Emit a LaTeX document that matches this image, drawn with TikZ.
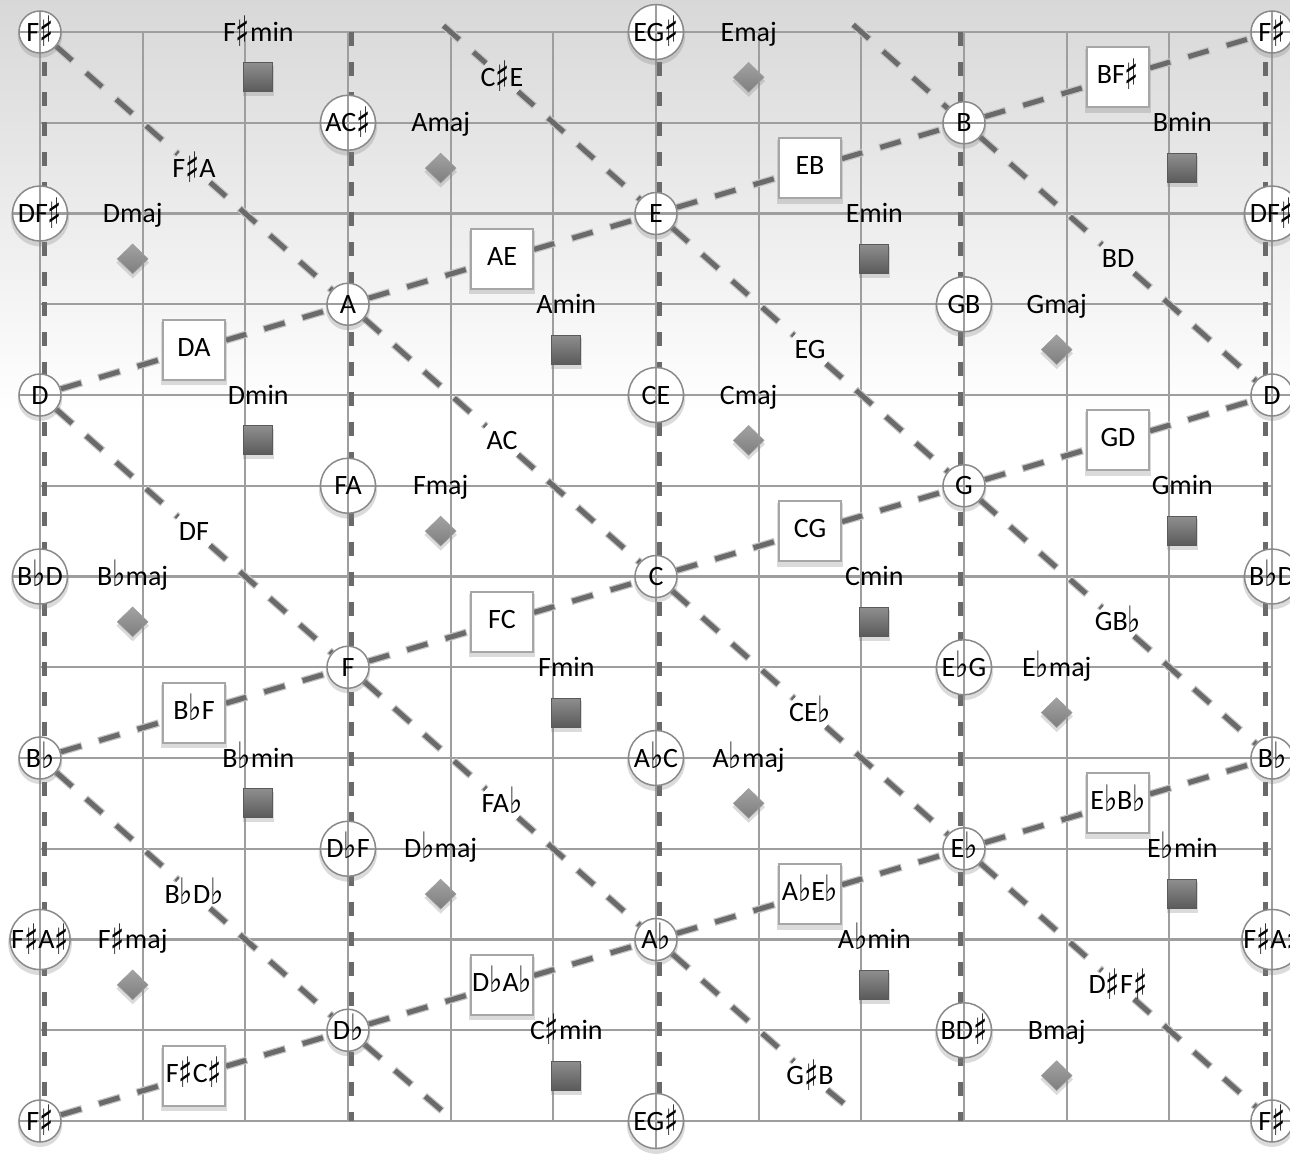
\documentclass[tikz,border=0pt]{standalone}
\usepackage{fontspec}
\usepackage{graphicx}
\setmainfont{Carlito}
\newfontfamily\symfont{DejaVu Sans}
\usetikzlibrary{shadows,shapes.geometric}
\newcommand{\sh}{\raisebox{-0.2em}{\scalebox{1.05}[1.5]{\symfont\char"266F}}}
\newcommand{\fl}{\raisebox{-0.04em}{\scalebox{1}[1.3]{\symfont\char"266D}}}
\definecolor{gridc}{HTML}{9E9E9E}
\definecolor{dashc}{HTML}{6A6A6A}
\definecolor{dashglow}{HTML}{C4C4C4}
\definecolor{ringc}{HTML}{8A8A8A}
\definecolor{boxc}{HTML}{A6A6A6}
\definecolor{sqtop}{HTML}{8E8E8E}
\definecolor{sqbot}{HTML}{5A5A5A}
\definecolor{ditop}{HTML}{A2A2A2}
\definecolor{dibot}{HTML}{7E7E7E}
\definecolor{bgtop}{HTML}{D8D8D8}
\pgfdeclarelayer{bg}
\pgfdeclarelayer{lines}
\pgfsetlayers{bg,lines,main}
\begin{document}
\begin{tikzpicture}[x=102.667pt, y=-90.75pt,
  font=\fontsize{28}{32}\selectfont,
  softshadow/.style={drop shadow={shadow xshift=0pt, shadow yshift=-3.5pt, shadow scale=1.06, opacity=0.28, fill=gray}},
  gridline/.style={draw=gridc, line width=2.2pt},
  vdash/.style={draw=dashc, line width=5pt, dash pattern=on 14pt off 16pt},
  dline/.style={draw=dashc, line width=5pt, dash pattern=on 21pt off 19pt,
     preaction={draw=dashglow, line width=7.5pt, dash pattern=on 23pt off 17pt, dash phase=1pt}},
  note/.style={circle, draw=ringc, line width=1.5pt, fill=white, inner sep=0pt,
     minimum size=42pt, text height=18pt, text depth=0pt, softshadow,
     path picture={
       \draw[gridline] (path picture bounding box.north) -- (path picture bounding box.south);
       \draw[gridline] (path picture bounding box.west) -- (path picture bounding box.east);}},
  pair/.style={note, minimum size=55pt},
  fifth/.style={rectangle, draw=boxc, line width=2pt, fill=white, minimum width=62pt,
     minimum height=60pt, inner sep=0pt, text height=18pt, text depth=5pt, softshadow},
  third/.style={inner sep=5pt, text height=18pt, text depth=0pt},
  chord/.style={inner sep=0pt, text height=18pt, text depth=0pt},
  minsq/.style={rectangle, minimum size=29pt, inner sep=0pt, draw=sqbot, line width=0.8pt,
     top color=sqtop, bottom color=sqbot, softshadow},
  majdia/.style={diamond, minimum width=31pt, minimum height=30pt, inner sep=0pt,
     draw=gridc, line width=0.6pt, top color=ditop, bottom color=dibot, softshadow}
]
\useasboundingbox (-0.38961,-0.35262) rectangle (12.17529,12.39669);

% ---------- background and grid ----------
\begin{pgfonlayer}{bg}
  \fill[white] (-0.38961,-0.35262) rectangle (12.17529,12.39669);
  \shade[top color=bgtop, bottom color=white] (-0.38961,-0.35262) rectangle (12.17529,4.2);
  \foreach \i in {0,...,12} {
    \draw[gridline] (\i,0) -- (\i,12);
    \draw[gridline] (0,\i) -- (12,\i);
  }
\end{pgfonlayer}

% ---------- note circles ----------
\node[note] (Fs1) at (0,0) {F\sh};
\node[pair] (EGs1) at (6,0) {EG\sh};
\node[note] (Fs2) at (12,0) {F\sh};
\node[pair] (ACs) at (3,1) {AC\sh};
\node[note] (B) at (9,1) {B};
\node[pair] (DFs1) at (0,2) {DF\sh};
\node[note] (E) at (6,2) {E};
\node[pair] (DFs2) at (12,2) {DF\sh};
\node[note] (A) at (3,3) {A};
\node[pair] (GB) at (9,3) {GB};
\node[note] (D1) at (0,4) {D};
\node[pair] (CE) at (6,4) {CE};
\node[note] (D2) at (12,4) {D};
\node[pair] (FA) at (3,5) {FA};
\node[note] (G) at (9,5) {G};
\node[pair] (BbD1) at (0,6) {B\fl D};
\node[note] (C) at (6,6) {C};
\node[pair] (BbD2) at (12,6) {B\fl D};
\node[note] (F) at (3,7) {F};
\node[pair] (EbG) at (9,7) {E\fl G};
\node[note] (Bb1) at (0,8) {B\fl};
\node[pair] (AbC) at (6,8) {A\fl C};
\node[note] (Bb2) at (12,8) {B\fl};
\node[pair] (DbF) at (3,9) {D\fl F};
\node[note] (Eb) at (9,9) {E\fl};
\node[pair] (FsAs1) at (0,10) {F\sh A\sh};
\node[note] (Ab) at (6,10) {A\fl};
\node[pair] (FsAs2) at (12,10) {F\sh A\sh};
\node[note] (Db) at (3,11) {D\fl};
\node[pair] (BDs) at (9,11) {BD\sh};
\node[note] (Fs3) at (0,12) {F\sh};
\node[pair] (EGs2) at (6,12) {EG\sh};
\node[note] (Fs4) at (12,12) {F\sh};

% ---------- fifth boxes ----------
\node[fifth] (bBFs) at (10.5,0.5) {BF\sh};
\node[fifth] (bEB) at (7.5,1.5) {EB};
\node[fifth] (bAE) at (4.5,2.5) {AE};
\node[fifth] (bDA) at (1.5,3.5) {DA};
\node[fifth] (bGD) at (10.5,4.5) {GD};
\node[fifth] (bCG) at (7.5,5.5) {CG};
\node[fifth] (bFC) at (4.5,6.5) {FC};
\node[fifth] (bBbF) at (1.5,7.5) {B\fl F};
\node[fifth] (bEbBb) at (10.5,8.5) {E\fl B\fl};
\node[fifth] (bAbEb) at (7.5,9.5) {A\fl E\fl};
\node[fifth] (bDbAb) at (4.5,10.5) {D\fl A\fl};
\node[fifth] (bFsCs) at (1.5,11.5) {F\sh C\sh};

% ---------- third labels ----------
\node[third] (lCsE) at (4.5,0.5) {C\sh E};
\node[third] (lFsA) at (1.5,1.5) {F\sh A};
\node[third] (lBD) at (10.5,2.5) {BD};
\node[third] (lEG) at (7.5,3.5) {EG};
\node[third] (lAC) at (4.5,4.5) {AC};
\node[third] (lDF) at (1.5,5.5) {DF};
\node[third] (lGBb) at (10.5,6.5) {GB\fl};
\node[third] (lCEb) at (7.5,7.5) {CE\fl};
\node[third] (lFAb) at (4.5,8.5) {FA\fl};
\node[third] (lBbDb) at (1.5,9.5) {B\fl D\fl};
\node[third] (lDsFs) at (10.5,10.5) {D\sh F\sh};
\node[third] (lGsB) at (7.5,11.5) {G\sh B};

% ---------- chords ----------
\foreach \c/\r/\t/\n in {7/0/Emaj/Emaj, 4/1/Amaj/Amaj, 1/2/Dmaj/Dmaj, 10/3/Gmaj/Gmaj,
    7/4/Cmaj/Cmaj, 4/5/Fmaj/Fmaj, 1/6/B\fl maj/Bbmaj, 10/7/E\fl maj/Ebmaj,
    7/8/A\fl maj/Abmaj, 4/9/D\fl maj/Dbmaj, 1/10/F\sh maj/Fsmaj, 10/11/Bmaj/Bmaj} {
  \node[chord, xshift=-10pt] (t\n) at (\c,\r) {\t};
  \node[majdia, xshift=-10pt] (s\n) at (\c,\r+0.5) {};
}
\foreach \c/\r/\t/\n in {2/0/F\sh min/Fsmin, 11/1/Bmin/Bmin, 8/2/Emin/Emin, 5/3/Amin/Amin,
    2/4/Dmin/Dmin, 11/5/Gmin/Gmin, 8/6/Cmin/Cmin, 5/7/Fmin/Fmin,
    2/8/B\fl min/Bbmin, 11/9/E\fl min/Ebmin, 8/10/A\fl min/Abmin, 5/11/C\sh min/Csmin} {
  \node[chord, xshift=13pt] (t\n) at (\c,\r) {\t};
  \node[minsq, xshift=13pt] (s\n) at (\c,\r+0.5) {};
}

% ---------- dashed lines ----------
\begin{pgfonlayer}{lines}
  \draw[vdash] ([xshift=5pt]0,0) -- ([xshift=5pt]0,12);
  \draw[vdash] ([xshift=3pt]3,0) -- ([xshift=3pt]3,12);
  \draw[vdash] ([xshift=3pt]6,0) -- ([xshift=3pt]6,12);
  \draw[vdash] ([xshift=-4pt]9,0) -- ([xshift=-4pt]9,12);
  \draw[vdash] ([xshift=-7pt]12,0) -- ([xshift=-7pt]12,12);

  \coordinate (st2) at (3.93,-0.07);
  \coordinate (st3) at (7.92,-0.08);
  \coordinate (en4) at (7.95,11.92);
  \coordinate (en5) at (3.95,11.92);

  \draw[dline] (Fs1) -- (lFsA) -- (A) -- (lAC) -- (C) -- (lCEb) -- (Eb) -- (lDsFs) -- (Fs4);
  \draw[dline] (st2) -- (lCsE) -- (E) -- (lEG) -- (G) -- (lGBb) -- (Bb2);
  \draw[dline] (st3) -- (B) -- (lBD) -- (D2);
  \draw[dline] (D1) -- (lDF) -- (F) -- (lFAb) -- (Ab) -- (lGsB) -- (en4);
  \draw[dline] (Bb1) -- (lBbDb) -- (Db) -- (en5);

  \draw[dline] (D1) -- (bDA) -- (A) -- (bAE) -- (E) -- (bEB) -- (B) -- (bBFs) -- (Fs2);
  \draw[dline] (Bb1) -- (bBbF) -- (F) -- (bFC) -- (C) -- (bCG) -- (G) -- (bGD) -- (D2);
  \draw[dline] (Fs3) -- (bFsCs) -- (Db) -- (bDbAb) -- (Ab) -- (bAbEb) -- (Eb) -- (bEbBb) -- (Bb2);
\end{pgfonlayer}
\end{tikzpicture}
\end{document}
